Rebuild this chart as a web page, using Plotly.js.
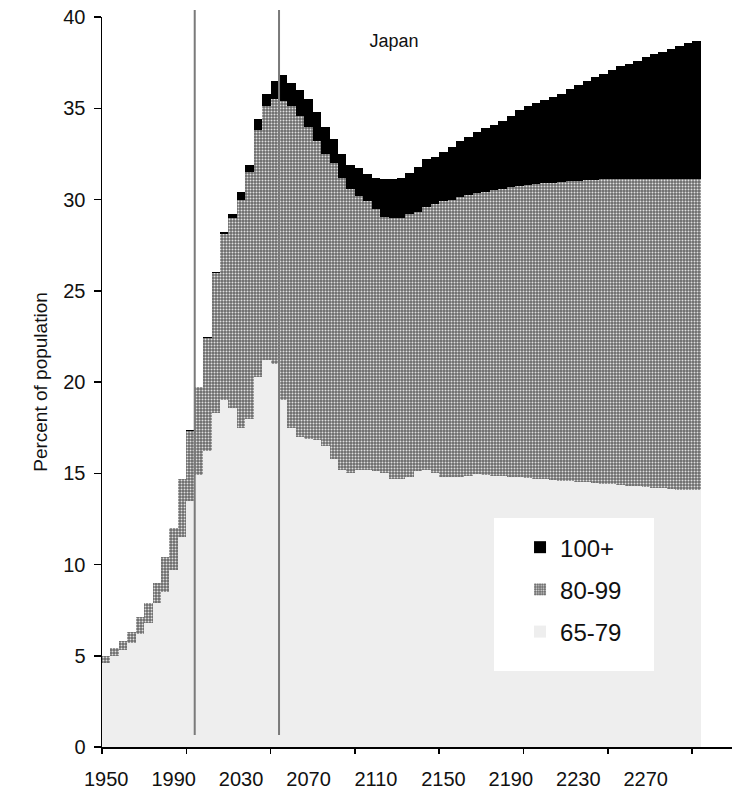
<!DOCTYPE html>
<html>
<head>
<meta charset="utf-8">
<script src="https://cdn.plot.ly/plotly-3.0.1.min.js"></script>
<style>
html, body { margin:0; padding:0; overflow:hidden; background:#fff; }
#chart { width:800px; height:789px; }
</style>
</head>
<body>
<div id="chart"></div>
<script>
// Categories (5-year steps)
const years = [1950,1955,1960,1965,1970,1975,1980,1985,1990,1995,
  2000,2005,2010,2015,2020,2025,2030,2035,2040,2045,
  2050,2055,2060,2065,2070,2075,2080,2085,2090,2095,
  2100,2105,2110,2115,2120,2125,2130,2135,2140,2145,
  2150,2155,2160,2165,2170,2175,2180,2185,2190,2195,
  2200,2205,2210,2215,2220,2225,2230,2235,2240,2245,
  2250,2255,2260,2265,2270,2275,2280,2285,2290,2295,2300];

// Percent of population by age group
const pct6579 = [4.6,5.0,5.3,5.7,6.2,6.8,7.9,8.5,9.7,11.5,
  13.5,14.9,16.2,18.3,19.0,18.6,17.5,18.0,20.3,21.2,
  21.0,19.0,17.5,17.0,16.9,16.8,16.5,15.8,15.2,15.0,
  15.2,15.2,15.1,15.0,14.7,14.7,14.8,15.1,15.2,15.0,
  14.8,14.8,14.8,14.85,14.95,14.9,14.85,14.85,14.8,14.8,
  14.75,14.7,14.7,14.65,14.6,14.55,14.5,14.5,14.45,14.4,
  14.4,14.35,14.3,14.3,14.25,14.2,14.2,14.15,14.1,14.1,14.1];
const pct8099 = [0.4,0.4,0.5,0.6,0.9,1.1,1.1,1.9,2.3,3.2,
  3.8,4.8,6.2,7.7,9.1,10.4,12.5,13.5,13.5,13.9,
  14.5,16.4,17.6,17.6,17.1,16.4,16.0,16.2,16.0,15.6,
  15.0,14.7,14.4,14.05,14.3,14.3,14.4,14.2,14.4,14.75,
  15.1,15.2,15.35,15.4,15.4,15.5,15.65,15.75,15.87,15.94,
  16.05,16.15,16.2,16.27,16.36,16.45,16.53,16.55,16.62,16.7,
  16.7,16.75,16.8,16.8,16.85,16.9,16.9,16.95,17.0,17.0,17.0];
const pct100 = [0,0,0,0,0,0,0,0,0,0,
  0.05,0.05,0.05,0.05,0.1,0.2,0.4,0.4,0.6,0.7,
  1.0,1.4,1.3,1.4,1.5,1.6,1.5,1.3,1.3,1.3,
  1.5,1.5,1.7,2.1,2.1,2.2,2.25,2.5,2.6,2.6,
  2.7,2.9,3.05,3.15,3.35,3.5,3.6,3.7,3.93,4.16,
  4.3,4.45,4.55,4.68,4.84,5.05,5.27,5.45,5.63,5.8,
  6.0,6.2,6.35,6.5,6.7,6.85,7.0,7.15,7.3,7.45,7.6];

// Axis labels (every 8th category) and tick marks (every 10th category boundary)
const labelYears = [1950,1990,2030,2070,2110,2150,2190,2230,2270];
const tickBoundaries = [1947.5,1997.5,2047.5,2097.5,2147.5,2197.5,2247.5,2297.5,2347.5];
const yTicks = [0,5,10,15,20,25,30,35,40];
// Reference periods marked by vertical lines
const markerYears = [2002.5, 2052.5];

const seriesNames = ['65-79','80-99','100+'];

const xRange = [1947.5, 2361.5];
const font = 'Liberation Sans, Arial, sans-serif';

const traces = [
  {type:'bar', name:seriesNames[0], x:years, y:pct6579, width:5,
   legendgroup:'a', legendrank:3, marker:{color:'#eeeeee', line:{width:0}}},
  {type:'bar', name:seriesNames[1], x:years, y:pct8099, width:5,
   legendgroup:'b', legendrank:2, marker:{color:'#7c7c7c', line:{width:0},
     pattern:{shape:'.', size:3, solidity:0.35, fgcolor:'#e0e0e0', bgcolor:'#6a6a6a'}}},
  {type:'bar', name:seriesNames[2], x:years, y:pct100, width:5,
   legendgroup:'c', legendrank:1, marker:{color:'#000000', line:{width:0}}},
  // invisible trace on the overlay axis carrying the category tick marks
  {type:'scatter', mode:'none', x:[xRange[0]], y:[0], xaxis:'x2', showlegend:false, hoverinfo:'skip'}
];

const shapes = markerYears.map(v => ({
  type:'line', xref:'x', yref:'paper', x0:v, x1:v, y0:0.0164, y1:1.0096,
  line:{color:'#7a7a7a', width:2}, layer:'above'
}));
shapes.push({type:'rect', xref:'paper', yref:'paper',
  x0:0.5616, x1:0.7908, y0:0.1041, y1:0.3137,
  fillcolor:'#ffffff', line:{width:0}, layer:'above'});

const layout = {
  width:800, height:789,
  margin:{l:102, r:0, t:17, b:42},
  paper_bgcolor:'#ffffff', plot_bgcolor:'#ffffff',
  barmode:'stack', bargap:0,
  font:{family:font, color:'#111', size:18},
  title:{text:'Japan', x:0.4925, xanchor:'center', xref:'container',
    y:0.948, yanchor:'middle', font:{family:font, size:18, color:'#111'}},
  showlegend:true,
  legend:{x:0.5989, y:0.304, xanchor:'left', yanchor:'top',
    bgcolor:'rgba(0,0,0,0)', borderwidth:0,
    font:{family:font, size:24, color:'#111'},
    traceorder:'grouped', tracegroupgap:8},
  xaxis:{range:xRange, tickmode:'array', tickvals:labelYears, ticktext:labelYears.map(String),
    ticks:'', showgrid:false, zeroline:false, showline:true, linecolor:'#000', linewidth:1.5,
    tickfont:{family:font, size:20, color:'#111'}, ticklabelstandoff:13, fixedrange:true},
  xaxis2:{range:xRange, overlaying:'x', side:'bottom', anchor:'y', tickmode:'array',
    tickvals:tickBoundaries, ticks:'outside', ticklen:6, tickwidth:1.5, tickcolor:'#000',
    showticklabels:false, showgrid:false, zeroline:false, showline:false},
  yaxis:{range:[0,40], tickmode:'array', tickvals:yTicks, ticks:'outside', ticklen:7,
    tickwidth:1.5, tickcolor:'#000', showline:true, linecolor:'#000', linewidth:1.5,
    showgrid:false, zeroline:false, tickfont:{family:font, size:20, color:'#111'},
    ticklabelstandoff:4,
    title:{text:'Percent of population', font:{family:font, size:19, color:'#111'}, standoff:10}},
  shapes:shapes
};

Plotly.newPlot('chart', traces, layout, {staticPlot:true, displayModeBar:false});
</script>
</body>
</html>
